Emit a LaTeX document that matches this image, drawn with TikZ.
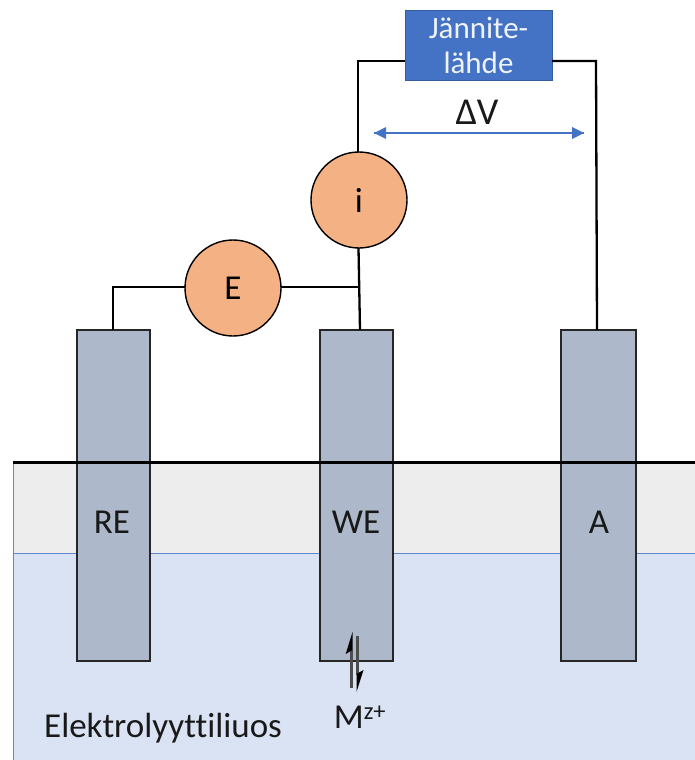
\documentclass[tikz,border=0pt]{standalone}
\usepackage{fontspec}
\setmainfont[Ligatures=NoCommon]{Carlito}
\definecolor{elec}{HTML}{ADB9CA}
\definecolor{circ}{HTML}{F4B183}
\definecolor{bl}{HTML}{4472C4}
\definecolor{sol}{HTML}{DAE3F3}
\definecolor{gas}{HTML}{EDEDED}
\begin{document}
\begin{tikzpicture}[x=1pt,y=-1pt,
  electrode/.style={draw=black!85,line width=1.4pt,fill=elec,minimum width=73pt,minimum height=331pt,inner sep=0pt,outer sep=0pt},
  meter/.style={circle,draw=black,line width=1.4pt,fill=circ,minimum size=96pt,inner sep=0pt,outer sep=0pt,font=\fontsize{35}{35}\selectfont},
  wire/.style={line width=2.3pt,black},
  lbl/.style={inner sep=0pt,font=\fontsize{35}{35}\selectfont,text=black!90},
  halfhead/.style={fill=black,draw=none}]
\useasboundingbox (0,0) rectangle (695,760);
% liquid and gas layers
\fill[sol] (13,553) rectangle (695,760);
\fill[gas] (13,463) rectangle (695,553);
\draw[bl!85,line width=1pt] (13,760) -- (13,463);
\draw[bl!85,line width=1pt] (13,553) -- (695,553);
% electrodes
\node[electrode] (re) at (113.5,495.5) {};
\node[electrode] (we) at (356.5,495.5) {};
\node[electrode,minimum width=75pt] (a) at (598.5,495.5) {};
% surface
\coordinate (sl) at (13,462.5);
\coordinate (sr) at (695,462.5);
\draw[line width=2.6pt,black] (sl) -- (sr);
% labels on the electrodes
\node[lbl] (tre) at (112,522) {RE};
\node[lbl] (twe) at (356,522) {WE};
\node[lbl] (ta) at (599,522) {A};
% instruments
\node[meter] (i) at (359,200) {i};
\node[meter] (e) at (233,288) {E};
\node[draw=bl!80!black,line width=.8pt,fill=bl,minimum width=147pt,minimum height=70pt,inner sep=0pt,outer sep=0pt,align=center,text=white!92!bl,font=\fontsize{31}{35}\selectfont] (src) at (478.5,45) {Jännite-\\lähde};
% wiring
\coordinate (rewire) at (113,287);
\coordinate (ejoin) at (358.5,287);
\coordinate (wetop) at (360,330);
\coordinate (ibot) at (358.5,248);
\coordinate (tl) at (358,61);
\coordinate (tr) at (596,61);
\coordinate (abot) at (597,330);
\draw[wire] (wetop) -- (ibot);
\draw[wire] (re.north -| rewire) -- (rewire) -- (e.west |- rewire);
\draw[wire] (e.east |- rewire) -- (ejoin);
\draw[wire] (i.north -| tl) -- (tl) -- (src.west |- tl);
\draw[wire] (src.east |- tr) -- (tr) -- (abot);
% potential difference
\coordinate (dl) at (374,133);
\coordinate (dr) at (584,133);
\draw[bl,line width=1.2pt] (dl) -- (dr);
\fill[bl] (dl) -- (386,127) -- (386,139) -- cycle;
\fill[bl] (dr) -- (572,127) -- (572,139) -- cycle;
\node[lbl,font=\fontsize{38}{38}\selectfont] (dv) at (477,112) {ΔV};
% equilibrium half arrows
\draw[black!70,line width=2.4pt] (351.5,650) -- (351.5,688);
\fill[halfhead] (352.5,632) -- (345.7,654) -- (352.5,650) -- cycle;
\draw[black!70,line width=2.4pt] (357.5,636) -- (357.5,675);
\fill[halfhead] (356.5,692) -- (363.5,670) -- (356.5,674) -- cycle;
\node[lbl] (m) at (360,717) {M\textsuperscript{z+}};
\node[lbl,anchor=west] (sol) at (44,728) {Elektrolyyttiliuos};
\end{tikzpicture}
\end{document}
